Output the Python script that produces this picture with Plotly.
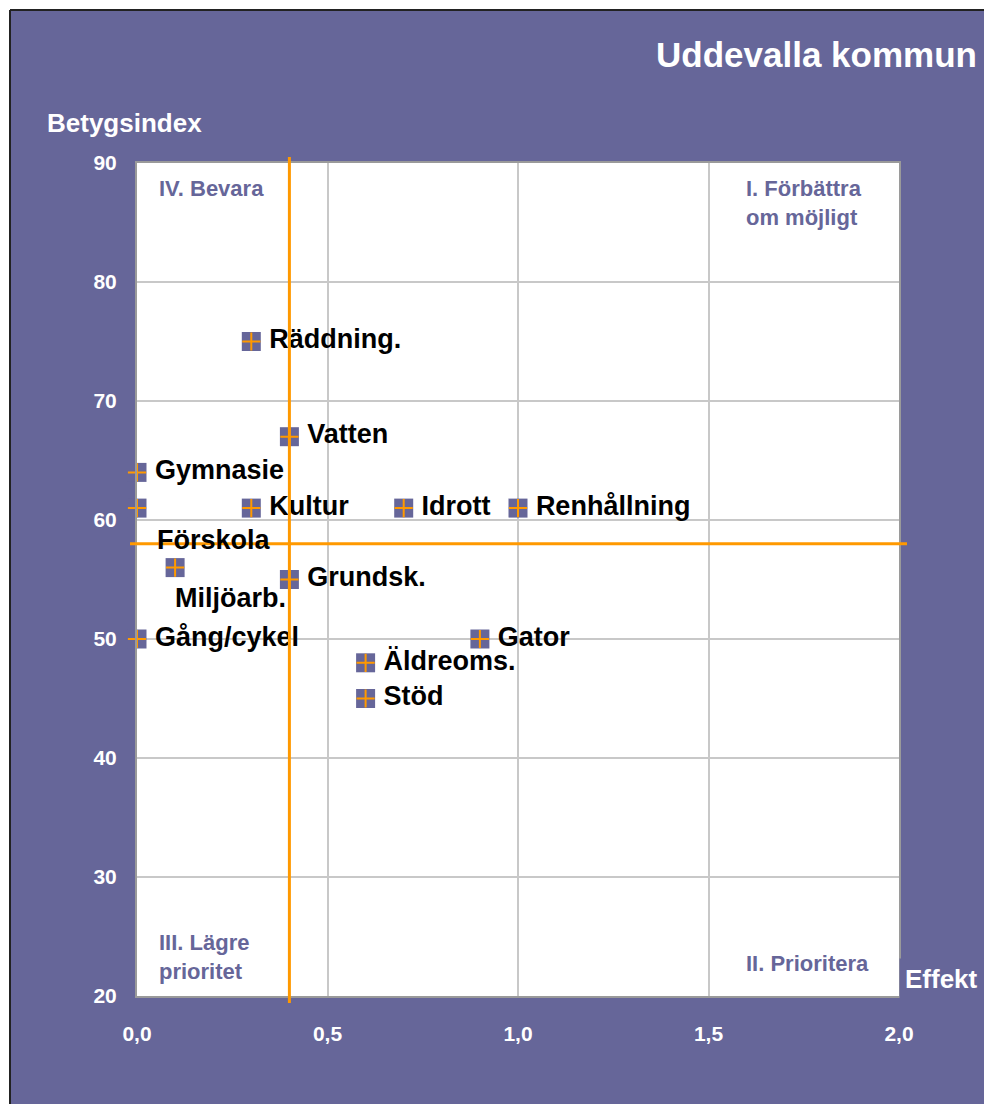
import plotly.graph_objects as go

# ---------------- data ----------------
names = ["Räddning.", "Vatten", "Gymnasie", "Förskola", "Kultur", "Idrott",
         "Renhållning", "Miljöarb.", "Grundsk.", "Gång/cykel", "Gator",
         "Äldreoms.", "Stöd"]
effekt = [0.3, 0.4, 0.0, 0.0, 0.3, 0.7, 1.0, 0.1, 0.4, 0.0, 0.9, 0.6, 0.6]
betyg = [75, 67, 64, 61, 61, 61, 61, 56, 55, 50, 50, 48, 45]

ref_effekt = 0.4   # vertical reference line
ref_betyg = 58     # horizontal reference line

x_ticks = [0.0, 0.5, 1.0, 1.5, 2.0]
y_ticks = [20, 30, 40, 50, 60, 70, 80, 90]

title = "Uddevalla kommun"
y_title = "Betygsindex"
x_title = "Effekt"
quadrants = ["IV. Bevara", "I. Förbättra<br>om möjligt",
             "III. Lägre<br>prioritet", "II. Prioritera"]

# ---------------- style ----------------
PURPLE = "#666699"
ORANGE = "#FF9900"
FONT = "Liberation Sans, Arial, sans-serif"
W, H = 984, 1104
ML, MR, MT, MB = 137, 85, 163, 108
XR = [0.0, 2.0]
YR = [20, 90]
PW, PH = W - ML - MR, H - MT - MB


def px_x(p):   # pixel -> paper x
    return (p - ML) / PW


def px_y(p):   # pixel -> paper y
    return (H - MB - p) / PH


# labels that are not placed to the right of the marker
special = {"Förskola": (18, -32), "Miljöarb.": (-2, -30)}

fig = go.Figure()

# purple squares
fig.add_trace(go.Scatter(
    x=effekt, y=betyg, mode="markers", cliponaxis=False, hoverinfo="skip",
    marker=dict(symbol="square", size=19, color=PURPLE, line=dict(width=0)),
    showlegend=False))
# orange crosses
fig.add_trace(go.Scatter(
    x=effekt, y=betyg, mode="markers", cliponaxis=False, hoverinfo="skip",
    marker=dict(symbol="cross-thin", size=13, color=ORANGE,
                line=dict(width=2, color=ORANGE)),
    showlegend=False))
# text labels (invisible markers to control the gap)
rx = [x for x, n in zip(effekt, names) if n not in special]
ry = [y for y, n in zip(betyg, names) if n not in special]
rn = [n for n in names if n not in special]
fig.add_trace(go.Scatter(
    x=rx, y=ry, text=rn, mode="markers+text", textposition="middle right",
    cliponaxis=False, hoverinfo="skip",
    marker=dict(size=27, color="rgba(0,0,0,0)"),
    textfont=dict(family=FONT, size=27, color="black", weight="bold"),
    showlegend=False))

annotations = []
for n, x, y in zip(names, effekt, betyg):
    if n in special:
        dx, dy = special[n]
        annotations.append(dict(
            x=x, y=y, xref="x", yref="y", text=n, showarrow=False,
            xanchor="left", yanchor="middle", xshift=dx, yshift=dy,
            font=dict(family=FONT, size=27, color="black", weight="bold")))

# title and axis titles
annotations.append(dict(
    x=px_x(979), y=px_y(55), xref="paper", yref="paper", text=title,
    showarrow=False, xanchor="right", yanchor="middle",
    font=dict(family=FONT, size=35, color="white", weight="bold")))
annotations.append(dict(
    x=px_x(45), y=px_y(123), xref="paper", yref="paper", text=y_title,
    showarrow=False, xanchor="left", yanchor="middle",
    font=dict(family=FONT, size=26, color="white", weight="bold")))
annotations.append(dict(
    x=1.0, y=px_y(958), xref="paper", yref="paper", text=x_title,
    showarrow=False, xanchor="left", yanchor="top", bgcolor=PURPLE,
    borderpad=5,
    font=dict(family=FONT, size=26, color="white", weight="bold")))

# quadrant labels
qpos = [(157, 188), (744, 203), (157, 957), (744, 963)]
for t, (qx, qy) in zip(quadrants, qpos):
    annotations.append(dict(
        x=px_x(qx), y=px_y(qy), xref="paper", yref="paper", text=t,
        showarrow=False, xanchor="left", yanchor="middle", align="left",
        font=dict(family=FONT, size=22, color=PURPLE, weight="bold")))

# reference lines (paper coordinates derived from data & axis ranges)
vx = (ref_effekt - XR[0]) / (XR[1] - XR[0])
hy = (ref_betyg - YR[0]) / (YR[1] - YR[0])
shapes = [
    dict(type="line", xref="paper", yref="paper", x0=vx, x1=vx,
         y0=px_y(1003), y1=px_y(157), line=dict(color=ORANGE, width=3),
         layer="above"),
    dict(type="line", xref="paper", yref="paper", x0=px_x(130), x1=px_x(907),
         y0=hy, y1=hy, line=dict(color=ORANGE, width=3), layer="above"),
    # white page margin and black frame
    dict(type="rect", xref="paper", yref="paper", x0=px_x(-5), x1=px_x(10),
         y0=px_y(H + 5), y1=px_y(-5), fillcolor="white", line=dict(width=0),
         layer="above"),
    dict(type="rect", xref="paper", yref="paper", x0=px_x(-5), x1=px_x(W + 5),
         y0=px_y(10), y1=px_y(-5), fillcolor="white", line=dict(width=0),
         layer="above"),
    dict(type="line", xref="paper", yref="paper", x0=px_x(10), x1=px_x(10),
         y0=px_y(H + 5), y1=px_y(10), line=dict(color="#222222", width=2),
         layer="above"),
    dict(type="line", xref="paper", yref="paper", x0=px_x(10), x1=px_x(W + 5),
         y0=px_y(10), y1=px_y(10), line=dict(color="#222222", width=2),
         layer="above"),
]

fig.update_layout(
    width=W, height=H,
    margin=dict(l=ML, r=MR, t=MT, b=MB, pad=0),
    paper_bgcolor=PURPLE, plot_bgcolor="white",
    separators=", ",
    annotations=annotations, shapes=shapes,
    showlegend=False,
)
fig.update_xaxes(
    range=XR, tickvals=x_ticks, tickformat=".1f", showgrid=True,
    gridcolor="#C8C8C8", gridwidth=1.5, zeroline=False,
    showline=True, linecolor="#9A9A9A", linewidth=2, mirror=True,
    ticks="", ticklabelstandoff=18,
    tickfont=dict(family=FONT, size=21, color="white", weight="bold"))
fig.update_yaxes(
    range=YR, tickvals=y_ticks, showgrid=True,
    gridcolor="#C8C8C8", gridwidth=1.5, zeroline=False,
    showline=True, linecolor="#9A9A9A", linewidth=2, mirror=True,
    ticks="", ticklabelstandoff=14,
    tickfont=dict(family=FONT, size=21, color="white", weight="bold"))

fig.write_html(
    "out.html",
    config={"displayModeBar": False},
    post_script="document.body.style.margin='0';"
                "document.body.style.overflow='hidden';")
